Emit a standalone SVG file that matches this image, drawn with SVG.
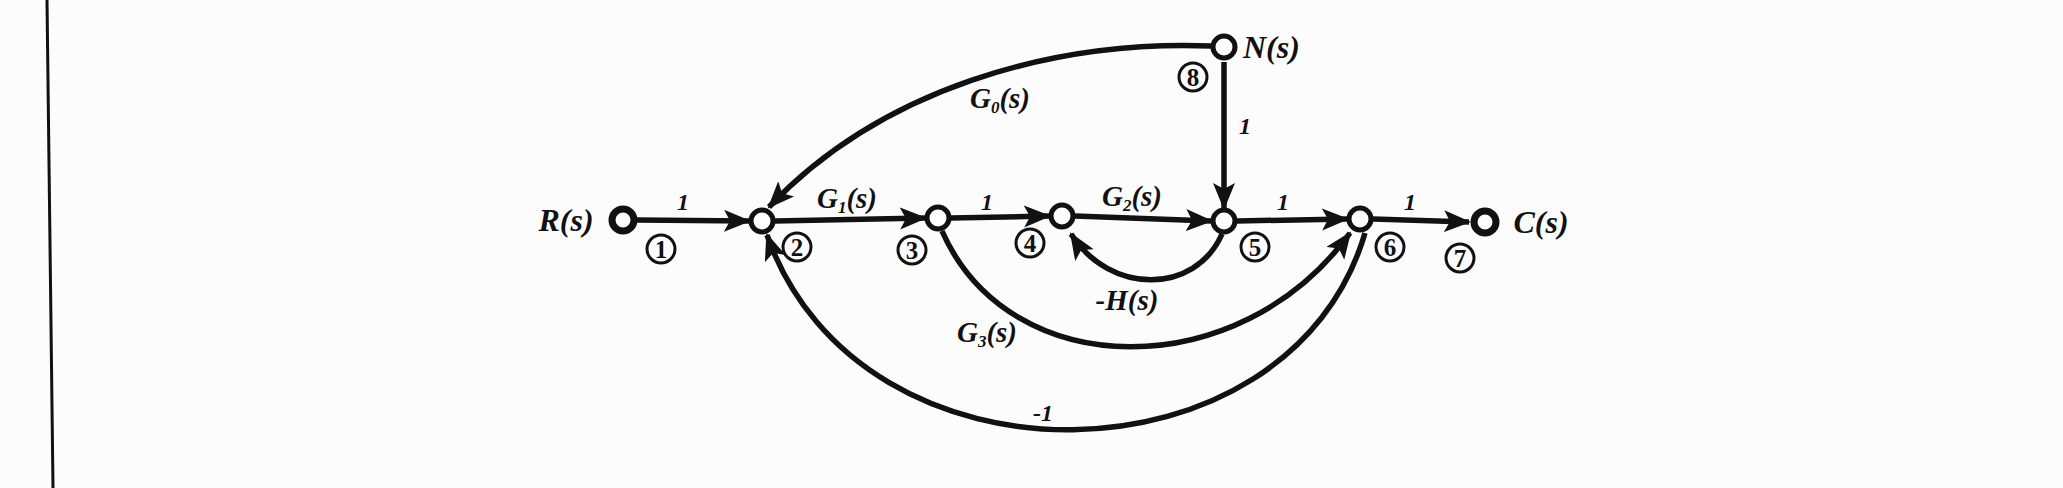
<svg xmlns="http://www.w3.org/2000/svg" width="2063" height="488" viewBox="0 0 2063 488">
<style>
.edge{fill:none;stroke:#111;stroke-width:5.5}
.arr{marker-end:url(#ah)}
.node{fill:#fff;stroke:#111;stroke-width:5}
.term{fill:#fff;stroke:#111;stroke-width:7}
.lbl{font-family:"Liberation Serif",serif;font-style:italic;font-weight:bold;fill:#111}
.big{font-size:32px}
.gain{font-size:29px}
.one{font-size:24px}
.sub{font-size:17px}
.cn{fill:none;stroke:#111;stroke-width:3}
.num{font-family:"Liberation Serif",serif;font-weight:bold;font-size:25px;fill:#111;text-anchor:middle}
</style>
<defs>
<marker id="ah" markerUnits="userSpaceOnUse" markerWidth="28" markerHeight="24" refX="25" refY="11" orient="auto">
<path d="M0,0 L27,11 L0,22 L6,11 z" fill="#111"/>
</marker>
</defs>
<rect width="2063" height="488" fill="#fdfcfd"/>
<line x1="47" y1="0" x2="53" y2="488" stroke="#111" stroke-width="3"/>
<g id="connectors">
<line class="edge arr" x1="637" y1="220" x2="749" y2="221"/>
<line class="edge arr" x1="775" y1="221" x2="925" y2="218"/>
<line class="edge arr" x1="951" y1="218" x2="1049" y2="216"/>
<line class="edge arr" x1="1075" y1="216" x2="1211" y2="221"/>
<line class="edge arr" x1="1237" y1="221" x2="1347" y2="219"/>
<line class="edge arr" x1="1373" y1="219" x2="1469" y2="222"/>
<line class="edge arr" x1="1224" y1="62" x2="1224" y2="208"/>
<path class="edge arr" d="M1211,46 C1050,40 880,90 769,207"/>
<path class="edge arr" d="M1222,234 C1195,295 1110,295 1071,234"/>
<path class="edge arr" d="M942,231 C1010,385 1240,385 1350,233"/>
<path class="edge arr" d="M1365,233 C1290,490 860,500 767,235"/>
<text class="lbl one" x="683" y="210" text-anchor="middle">1</text>
<text class="lbl gain" x="847" y="208" text-anchor="middle">G<tspan class="sub" dy="5">1</tspan><tspan dy="-5">(s)</tspan></text>
<text class="lbl one" x="987" y="210" text-anchor="middle">1</text>
<text class="lbl gain" x="1132" y="206" text-anchor="middle">G<tspan class="sub" dy="5">2</tspan><tspan dy="-5">(s)</tspan></text>
<text class="lbl one" x="1283" y="210" text-anchor="middle">1</text>
<text class="lbl one" x="1410" y="210" text-anchor="middle">1</text>
<text class="lbl gain" x="1127" y="310" text-anchor="middle">-H(s)</text>
<text class="lbl gain" x="987" y="342" text-anchor="middle">G<tspan class="sub" dy="5">3</tspan><tspan dy="-5">(s)</tspan></text>
<text class="lbl one" x="1043" y="421" text-anchor="middle">-1</text>
<text class="lbl gain" x="1000" y="108" text-anchor="middle">G<tspan class="sub" dy="5">0</tspan><tspan dy="-5">(s)</tspan></text>
<text class="lbl one" x="1245" y="134" text-anchor="middle">1</text>
</g>
<g id="n1"><circle class="term" cx="623" cy="220" r="11"/><text class="lbl big" x="566" y="231" text-anchor="middle">R(s)</text><circle class="cn" cx="661" cy="249" r="14"/><text class="num" x="661" y="258">1</text></g>
<g id="n2"><circle class="node" cx="762" cy="221" r="11"/><circle class="cn" cx="797" cy="247" r="14"/><text class="num" x="797" y="256">2</text></g>
<g id="n3"><circle class="node" cx="938" cy="218" r="11"/><circle class="cn" cx="912" cy="250" r="14"/><text class="num" x="912" y="259">3</text></g>
<g id="n4"><circle class="node" cx="1062" cy="216" r="11"/><circle class="cn" cx="1030" cy="243" r="14"/><text class="num" x="1030" y="252">4</text></g>
<g id="n5"><circle class="node" cx="1224" cy="221" r="11"/><circle class="cn" cx="1255" cy="247" r="14"/><text class="num" x="1255" y="256">5</text></g>
<g id="n6"><circle class="node" cx="1360" cy="219" r="11"/><circle class="cn" cx="1390" cy="247" r="14"/><text class="num" x="1390" y="256">6</text></g>
<g id="n7"><circle class="term" cx="1485" cy="222" r="11"/><text class="lbl big" x="1541" y="233" text-anchor="middle">C(s)</text><circle class="cn" cx="1460" cy="258" r="14"/><text class="num" x="1460" y="267">7</text></g>
<g id="n8"><circle class="node" cx="1224" cy="47" r="11" stroke-width="6"/><text class="lbl big" x="1243" y="58">N(s)</text><circle class="cn" cx="1193" cy="77" r="14"/><text class="num" x="1193" y="86">8</text></g>
</svg>
